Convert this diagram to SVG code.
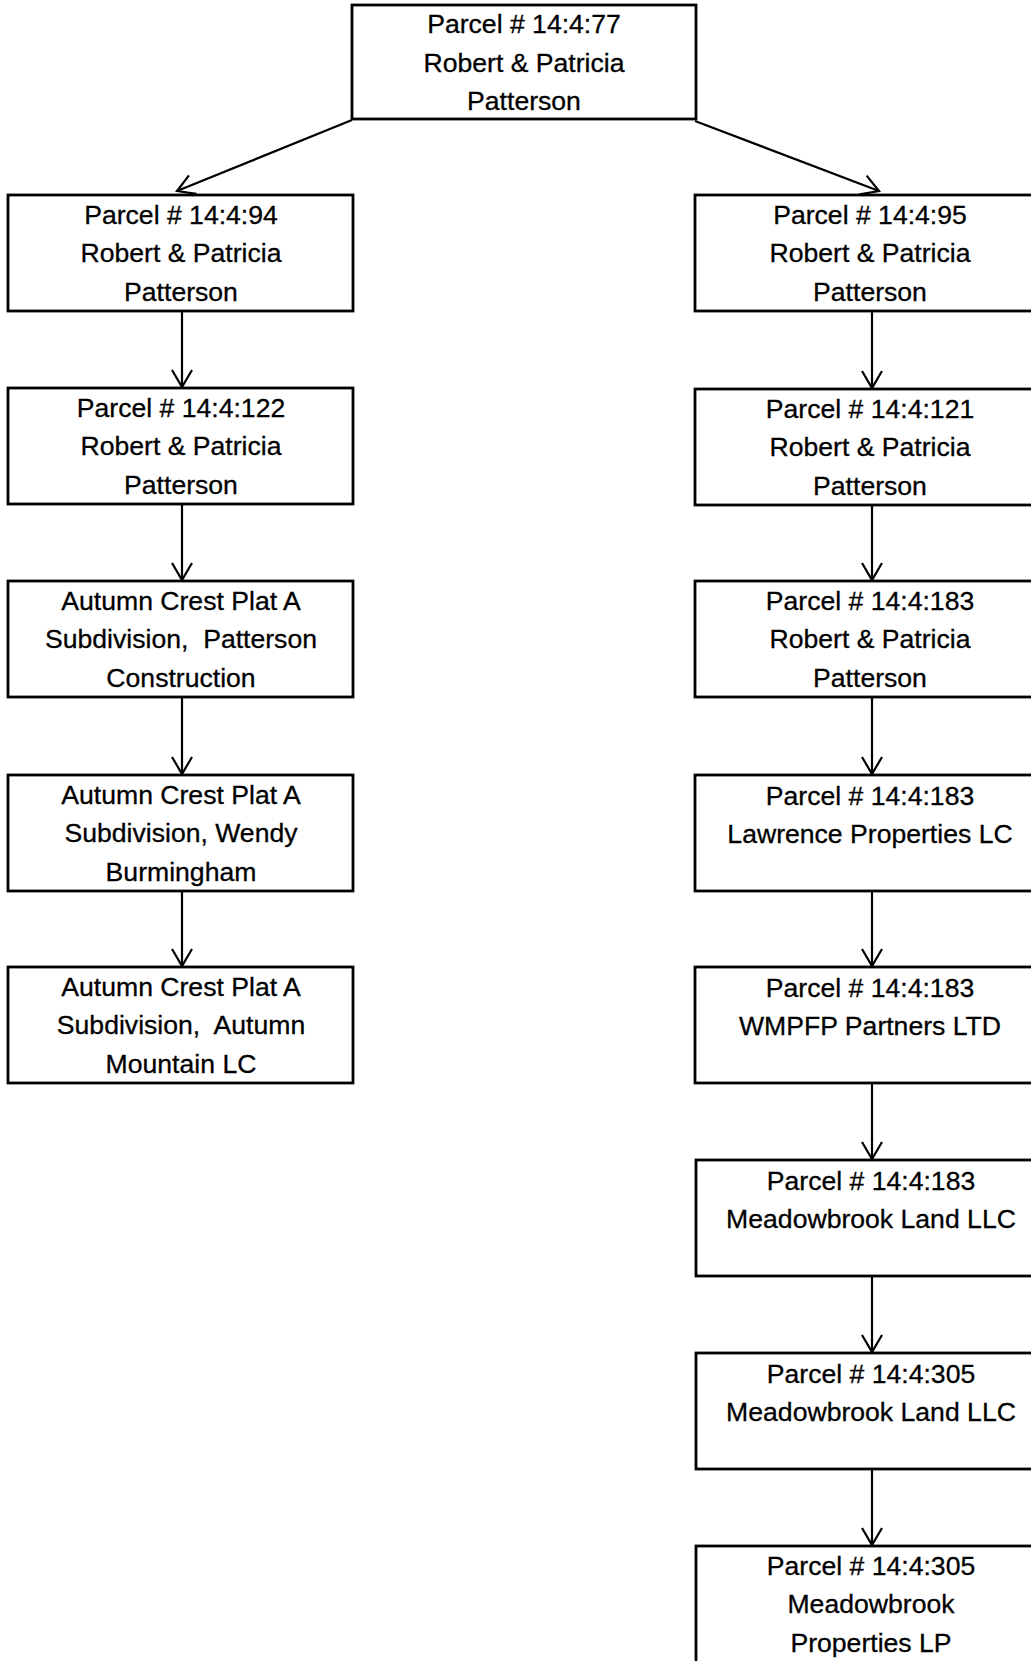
<svg xmlns="http://www.w3.org/2000/svg" width="1031" height="1661" viewBox="0 0 1031 1661">
<style>
.box{fill:#fff;stroke:#000;stroke-width:2.8}
.t{font-family:"Liberation Sans",Arial,sans-serif;font-size:26.6px;fill:#000;stroke:#000;stroke-width:0.3;text-anchor:middle}
.c{fill:none;stroke:#000;stroke-width:2.2}
</style>
<defs>
<marker id="ah" markerUnits="userSpaceOnUse" markerWidth="20" markerHeight="24" refX="18" refY="11" orient="auto" overflow="visible">
<path d="M1,1 L18,11 L1,21" fill="none" stroke="#000" stroke-width="2.2"/>
</marker>
</defs>
<rect width="1031" height="1661" fill="#fff"/>
<g id="connectors">
<line class="c" x1="352" y1="120" x2="177" y2="191" marker-end="url(#ah)"/>
<line class="c" x1="695" y1="121" x2="879" y2="191" marker-end="url(#ah)"/>
<line class="c" x1="182" y1="311" x2="182" y2="387" marker-end="url(#ah)"/>
<line class="c" x1="182" y1="504" x2="182" y2="580" marker-end="url(#ah)"/>
<line class="c" x1="182" y1="697" x2="182" y2="774" marker-end="url(#ah)"/>
<line class="c" x1="182" y1="891" x2="182" y2="966" marker-end="url(#ah)"/>
<line class="c" x1="872" y1="311" x2="872" y2="388" marker-end="url(#ah)"/>
<line class="c" x1="872" y1="505" x2="872" y2="580" marker-end="url(#ah)"/>
<line class="c" x1="872" y1="697" x2="872" y2="774" marker-end="url(#ah)"/>
<line class="c" x1="872" y1="891" x2="872" y2="966" marker-end="url(#ah)"/>
<line class="c" x1="872" y1="1083" x2="872" y2="1159" marker-end="url(#ah)"/>
<line class="c" x1="872" y1="1276" x2="872" y2="1352" marker-end="url(#ah)"/>
<line class="c" x1="872" y1="1469" x2="872" y2="1545" marker-end="url(#ah)"/>
</g>
<g id="n_top">
<rect class="box" x="352" y="5" width="344" height="114"/>
<text class="t" x="524" y="33">Parcel # 14:4:77</text>
<text class="t" x="524" y="71.5">Robert &amp; Patricia</text>
<text class="t" x="524" y="110">Patterson</text>
</g>
<g id="n_94">
<rect class="box" x="8" y="195" width="345" height="116"/>
<text class="t" x="181" y="223.5">Parcel # 14:4:94</text>
<text class="t" x="181" y="262">Robert &amp; Patricia</text>
<text class="t" x="181" y="300.5">Patterson</text>
</g>
<g id="n_122">
<rect class="box" x="8" y="388" width="345" height="116"/>
<text class="t" x="181" y="416.5">Parcel # 14:4:122</text>
<text class="t" x="181" y="455">Robert &amp; Patricia</text>
<text class="t" x="181" y="493.5">Patterson</text>
</g>
<g id="n_acp1">
<rect class="box" x="8" y="581" width="345" height="116"/>
<text class="t" x="181" y="609.5">Autumn Crest Plat A</text>
<text class="t" x="181" y="648" xml:space="preserve">Subdivision,  Patterson</text>
<text class="t" x="181" y="686.5">Construction</text>
</g>
<g id="n_acp2">
<rect class="box" x="8" y="775" width="345" height="116"/>
<text class="t" x="181" y="803.5">Autumn Crest Plat A</text>
<text class="t" x="181" y="842">Subdivision, Wendy</text>
<text class="t" x="181" y="880.5">Burmingham</text>
</g>
<g id="n_acp3">
<rect class="box" x="8" y="967" width="345" height="116"/>
<text class="t" x="181" y="995.5">Autumn Crest Plat A</text>
<text class="t" x="181" y="1034" xml:space="preserve">Subdivision,  Autumn</text>
<text class="t" x="181" y="1072.5">Mountain LC</text>
</g>
<g id="n_95">
<rect class="box" x="695" y="195" width="360" height="116"/>
<text class="t" x="870" y="223.5">Parcel # 14:4:95</text>
<text class="t" x="870" y="262">Robert &amp; Patricia</text>
<text class="t" x="870" y="300.5">Patterson</text>
</g>
<g id="n_121">
<rect class="box" x="695" y="389" width="360" height="116"/>
<text class="t" x="870" y="417.5">Parcel # 14:4:121</text>
<text class="t" x="870" y="456">Robert &amp; Patricia</text>
<text class="t" x="870" y="494.5">Patterson</text>
</g>
<g id="n_183a">
<rect class="box" x="695" y="581" width="360" height="116"/>
<text class="t" x="870" y="609.5">Parcel # 14:4:183</text>
<text class="t" x="870" y="648">Robert &amp; Patricia</text>
<text class="t" x="870" y="686.5">Patterson</text>
</g>
<g id="n_183b">
<rect class="box" x="695" y="775" width="360" height="116"/>
<text class="t" x="870" y="804.5">Parcel # 14:4:183</text>
<text class="t" x="870" y="843">Lawrence Properties LC</text>
</g>
<g id="n_183c">
<rect class="box" x="695" y="967" width="360" height="116"/>
<text class="t" x="870" y="996.5">Parcel # 14:4:183</text>
<text class="t" x="870" y="1035">WMPFP Partners LTD</text>
</g>
<g id="n_183d">
<rect class="box" x="696" y="1160" width="360" height="116"/>
<text class="t" x="871" y="1189.5">Parcel # 14:4:183</text>
<text class="t" x="871" y="1228">Meadowbrook Land LLC</text>
</g>
<g id="n_305a">
<rect class="box" x="696" y="1353" width="360" height="116"/>
<text class="t" x="871" y="1382.5">Parcel # 14:4:305</text>
<text class="t" x="871" y="1421">Meadowbrook Land LLC</text>
</g>
<g id="n_305b">
<rect class="box" x="696" y="1546" width="360" height="130"/>
<text class="t" x="871" y="1574.5">Parcel # 14:4:305</text>
<text class="t" x="871" y="1613">Meadowbrook</text>
<text class="t" x="871" y="1651.5">Properties LP</text>
</g>
</svg>
